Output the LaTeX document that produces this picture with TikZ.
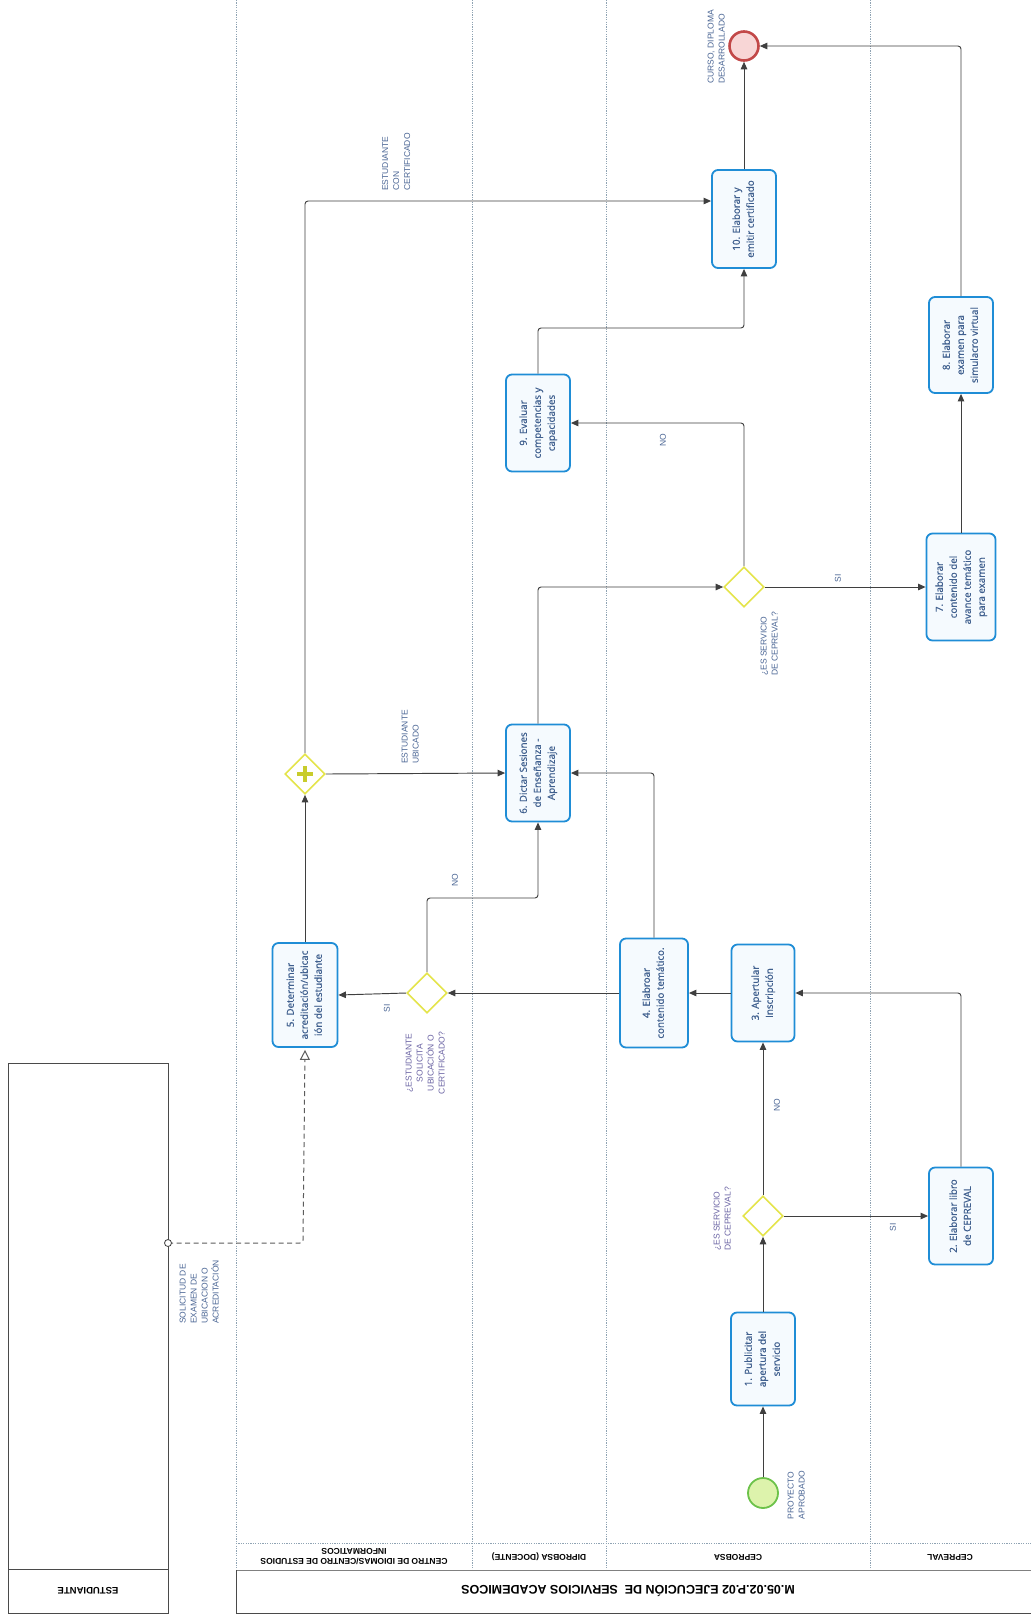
\documentclass[tikz,border=0pt]{standalone}
\usepackage{fontspec}
\setmainfont{Open Sans}
\newfontfamily\taskfont{Open Sans}[FakeBold=0.9]
\newfontfamily\labfont{Liberation Sans}
\usepackage{graphicx}
\usetikzlibrary{arrows.meta,shapes.geometric,calc}
\definecolor{taskblue}{HTML}{1F8DD6}
\definecolor{taskfill}{HTML}{F5FAFE}
\definecolor{tasktext}{HTML}{3F5F8E}
\definecolor{gateyel}{HTML}{E4E44A}
\definecolor{plusyel}{HTML}{C8CC2C}
\definecolor{startfill}{HTML}{DDF3AC}
\definecolor{startline}{HTML}{6CC24A}
\definecolor{endfill}{HTML}{F8D6D6}
\definecolor{endline}{HTML}{C24848}
\definecolor{labblue}{HTML}{4A6594}
\definecolor{gatelab}{HTML}{6A63A3}
\definecolor{flowgray}{HTML}{3F3F3F}
\definecolor{lanegray}{HTML}{8FA3B3}
\definecolor{poolgray}{HTML}{4A4A4A}
\newcommand{\vtc}[1]{\rotatebox{90}{\begin{tabular}{@{}c@{}}#1\end{tabular}}}
\newcommand{\vtl}[1]{\rotatebox{90}{\begin{tabular}{@{}l@{}}#1\end{tabular}}}
\begin{document}
\begin{tikzpicture}[x=1pt,y=-1pt,
 task/.style={draw=taskblue,line width=1.8pt,rounded corners=6pt,fill=taskfill,minimum width=64pt,minimum height=97pt,inner sep=1pt,text=tasktext,font=\taskfont\fontsize{9.8}{14}\selectfont},
 gate/.style={diamond,draw=gateyel,line width=1.6pt,fill=white,minimum width=40pt,minimum height=40pt,inner sep=0pt},
 flow/.style={draw=flowgray,line width=0.95pt,rounded corners=3pt,-{Triangle[width=6.5pt,length=7.5pt]}},
 msg/.style={draw=flowgray!85,line width=1pt,dash pattern=on 5pt off 3.5pt,rounded corners=3pt,-{Triangle[open,width=10pt,length=10pt,fill=white]}},
 lab/.style={text=labblue,font=\labfont\fontsize{8.5}{11}\selectfont,inner sep=0pt},
 glab/.style={lab,text=gatelab},
 lane/.style={draw=lanegray,line width=0.7pt,dash pattern=on 1.2pt off 1.2pt},
 hdr/.style={rotate=180,font=\labfont\bfseries\fontsize{8.5}{10}\selectfont,align=center,inner sep=0pt}
]
\useasboundingbox (0,0) rectangle (1031,1618);
% pool and lanes
\draw[lane] (236,0) -- (236,1570);
\foreach \x in {472,606,870} \draw[lane] (\x,0) -- (\x,1570);
\draw[lane] (236,1543) -- (1031,1543);
\draw[draw=poolgray!70,line width=0.8pt] (236,1570) -- (1031,1570);
\draw[draw=poolgray,line width=1pt] (236,1570) -- (236,1613) -- (1031,1613);
\node[hdr] (h1) at (354,1557) {CENTRO DE IDIOMAS/CENTRO DE ESTUDIOS\\INFORMATICOS};
\node[hdr] (h2) at (539,1557) {DIPROBSA (DOCENTE)};
\node[hdr] (h3) at (738,1557) {CEPROBSA};
\node[hdr] (h4) at (950,1557) {CEPREVAL};
\node[rotate=180,font=\labfont\bfseries\fontsize{12.5}{14}\selectfont,inner sep=0pt] (title) at (628,1591) {M.05.02.P.02 EJECUCIÓN DE \ SERVICIOS ACADEMICOS};
% ESTUDIANTE pool
\draw[draw=poolgray,line width=1pt] (8,1063) rectangle (168,1613);
\draw[draw=poolgray,line width=1pt] (8,1569) -- (168,1569);
\node[hdr,font=\labfont\bfseries\fontsize{9.5}{11}\selectfont] (h0) at (88,1591) {ESTUDIANTE};
% tasks
\node[task,minimum height=93pt] (t1) at (763,1359) {\vtc{1. Publicitar\\apertura del\\servicio}};
\node[task] (t2) at (961,1216) {\vtc{2. Elaborar libro\\de CEPREVAL}};
\node[task,minimum width=63pt] (t3) at (763,993) {\vtc{3. Apertular\\Inscripción}};
\node[task,minimum width=68pt,minimum height=109pt] (t4) at (654,993) {\vtc{4. Elabroar\\contenido temático.}};
\node[task,minimum width=65pt,minimum height=104pt] (t5) at (305,995) {\vtc{5. Determinar\\acreditación/ubicac\\ión del estudiante}};
\node[task] (t6) at (538,773) {\vtc{6. Dictar Sesiones\\de Enseñanza -\\Aprendizaje}};
\node[task,minimum width=69pt,minimum height=107pt] (t7) at (961,587) {\vtc{7. Elaborar\\contenido del\\avance temático\\para examen}};
\node[task,minimum height=96pt] (t8) at (961,345) {\vtc{8. Elaborar\\examen para\\simulacro virtual}};
\node[task] (t9) at (538,423) {\vtc{9. Evaluar\\competencias y\\capacidades}};
\node[task,minimum height=98pt] (t10) at (744,219) {\vtc{10. Elaborar y\\emitir certificado}};
% gateways
\node[gate] (g1) at (763,1216) {};
\node[gate] (g2) at (427,993) {};
\node[gate] (pg) at (305,774) {};
\draw[plusyel,line width=3.6pt] ($(pg)+(-8,0)$) -- ($(pg)+(8,0)$) ($(pg)+(0,-8)$) -- ($(pg)+(0,8)$);
\node[gate] (g3) at (744,587) {};
% events
\node[circle,draw=startline,fill=startfill,line width=1.8pt,minimum size=30pt,inner sep=0pt] (st) at (763,1493) {};
\node[circle,draw=endline,fill=endfill,line width=2.6pt,minimum size=29pt,inner sep=0pt] (en) at (744,46) {};
% labels
\node[lab] (lst) at (797,1495) {\vtl{PROYECTO\\APROBADO}};
\node[glab] (lg1) at (723,1219) {\vtl{¿ES SERVICIO\\DE CEPREVAL?}};
\node[glab] (lg2) at (426,1063) {\vtc{¿ESTUDIANTE\\SOLICITA\\UBICACIÓN O\\CERTIFICADO?}};
\node[lab] (lg3) at (770,644) {\vtl{¿ES SERVICIO\\DE CEPREVAL?}};
\node[lab] (len) at (717,47) {\vtl{CURSO, DIPLOMA\\DESARROLLADO}};
\node[lab] (lcert) at (397,162) {\vtl{ESTUDIANTE\\CON\\CERTIFICADO}};
\node[lab] (lubic) at (411,737) {\vtl{ESTUDIANTE\\UBICADO}};
\node[lab] (lmsg) at (200,1292) {\vtl{SOLICITUD DE\\EXAMEN DE\\UBICACION O\\ACREDITACIÓN}};
\node[lab] (e1) at (893,1227) {\rotatebox{90}{SI}};
\node[lab] (e2) at (777,1105) {\rotatebox{90}{NO}};
\node[lab] (e3) at (387,1008) {\rotatebox{90}{SI}};
\node[lab] (e4) at (455,880) {\rotatebox{90}{NO}};
\node[lab] (e5) at (838,578) {\rotatebox{90}{SI}};
\node[lab] (e6) at (663,440) {\rotatebox{90}{NO}};
% coordinates
\coordinate (c1) at (427,898);
\coordinate (c2) at (538,328);
\coordinate (m0) at (168,1243);
\coordinate (m1) at (303,1243);
% flows
\draw[flow] (st) -- (t1);
\draw[flow] (t1.north) -- (g1.south);
\draw[flow] (g1.east) -- (t2.west);
\draw[flow] (g1.north) -- (t3.south);
\draw[flow] (t2.north) |- (t3.east);
\draw[flow] (t3.west) -- (t4.east);
\draw[flow] (t4.west) -- (g2.east);
\draw[flow] (g2.west) -- (t5.east);
\draw[flow] (g2.north) -- (c1) -| (t6.south);
\draw[flow] (t4.north) |- (t6.east);
\draw[flow] (t5.north) -- (pg.south);
\draw[flow] (pg.east) -- (t6.west);
\draw[flow] (pg.north) |- ([yshift=18pt]t10.west);
\draw[flow] (t10.north) -- (en.south);
\draw[flow] (t8.north) |- (en.east);
\draw[flow] (t7.north) -- (t8.south);
\draw[flow] (t6.north) |- (g3.west);
\draw[flow] (g3.east) -- (t7.west);
\draw[flow] (g3.north) |- (t9.east);
\draw[flow] (t9.north) -- (c2) -| (t10.south);
% message flow
\draw[msg] (m0) -- (m1) -- ([yshift=-2pt]t5.south);
\node[circle,draw=flowgray,fill=white,line width=0.8pt,minimum size=7pt,inner sep=0pt] (mc) at (m0) {};
\end{tikzpicture}
\end{document}
